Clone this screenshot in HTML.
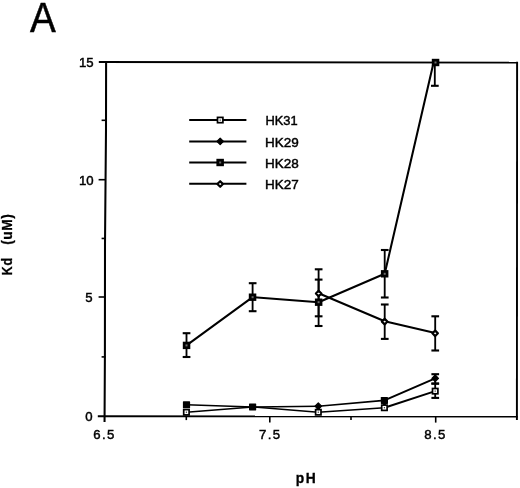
<!DOCTYPE html><html><head><meta charset="utf-8"><title>A</title>
<style>html,body{margin:0;padding:0;background:#fff;}svg{display:block;}text{font-family:"Liberation Sans",Arial,Helvetica,sans-serif;fill:#000;}</style></head><body>
<svg width="520" height="488" viewBox="0 0 520 488">
<rect width="520" height="488" fill="#fff"/>
<text transform="translate(30.1 31.5) scale(0.893 1)" font-size="43.3" stroke="#000" stroke-width="0.5">A</text>
<g stroke="#000" stroke-width="1.9" fill="none" stroke-linecap="butt">
<path d="M98.8 62 L516.9 62.6"/>
<path d="M106.1 61.2 L106 130 L105.55 180 L105 245 L104.9 356 L104.55 422" stroke-width="2.05" stroke-linejoin="round"/>
<path d="M517.1 61.7 L516.9 420"/>
<path d="M97.8 416.3 L517.8 416.5"/>
</g>
<g stroke="#000" stroke-width="1.6" fill="none">
<path d="M98.6 179.7 H105.5"/>
<path d="M98.6 297.0 H105.5"/>
<path d="M101.6 120.3 H105.5"/>
<path d="M101.6 238.45 H105.5"/>
<path d="M101.6 356.9 H105.5"/>
<path d="M269.8 416 V422.6"/>
<path d="M435.7 416 V422.6"/>
<path d="M186.3 416 V420.1"/>
<path d="M351.0 416 V420.1"/>
</g>
<g font-size="13.2" stroke="#000" stroke-width="0.45">
<text x="93.6" y="66.9" text-anchor="end">15</text>
<text x="93.6" y="184.6" text-anchor="end">10</text>
<text x="92.5" y="302.4" text-anchor="end">5</text>
<text x="92.5" y="421.0" text-anchor="end">0</text>
<text x="104.4" y="438.5" text-anchor="middle" letter-spacing="1.35">6.5</text>
<text x="270.3" y="438.8" text-anchor="middle" letter-spacing="1.35">7.5</text>
<text x="435.4" y="438.8" text-anchor="middle" letter-spacing="1.35">8.5</text>
</g>
<text transform="translate(11.7 275.3) rotate(-90) scale(0.9 1)" font-size="13.8" font-weight="bold" letter-spacing="0.9" stroke="#000" stroke-width="0.3">Kd</text>
<text transform="translate(11.7 244.8) rotate(-90)" font-size="13.8" font-weight="bold" letter-spacing="0.55" stroke="#000" stroke-width="0.3">(uM)</text>
<text x="295.7" y="483" font-size="13.8" font-weight="bold" letter-spacing="1.6" stroke="#000" stroke-width="0.3">pH</text>
<g>
<path d="M189.2 120.1 H246.4" stroke="#000" stroke-width="2"/>
<rect x="217.5" y="117.4" width="5.4" height="5.3" fill="#fff" stroke="#000" stroke-width="1.7"/><rect x="219.6" y="119.5" width="1.2" height="1.2" fill="#333"/>
<text transform="translate(265.4 125.2) scale(0.955 1)" font-size="13.5" stroke="#000" stroke-width="0.45">HK31</text>
<path d="M189.2 141.4 H246.4" stroke="#000" stroke-width="2"/>
<path d="M216.9 141.4 L220.2 138.1 L223.5 141.4 L220.2 144.7Z" fill="#000" stroke="#000" stroke-width="1.2" stroke-linejoin="round"/>
<text transform="translate(265.0 146.5) scale(1.0 1)" font-size="13.5" stroke="#000" stroke-width="0.45">HK29</text>
<path d="M189.2 162.5 H246.4" stroke="#000" stroke-width="2"/>
<rect x="216.4" y="158.8" width="7.5" height="7.4" fill="#000"/><rect x="219.2" y="161.5" width="2" height="2" fill="#6a6a6a"/>
<text transform="translate(265.0 167.6) scale(1.0 1)" font-size="13.5" stroke="#000" stroke-width="0.45">HK28</text>
<path d="M189.2 183.7 H246.4" stroke="#000" stroke-width="2"/>
<path d="M217.4 184.0 L220.2 181.2 L222.9 184.0 L220.2 186.8Z" fill="#fff" stroke="#000" stroke-width="2.2" stroke-linejoin="round"/>
<text transform="translate(265.0 188.8) scale(1.0 1)" font-size="13.5" stroke="#000" stroke-width="0.45">HK27</text>
</g>
<path d="M186.5 345.4 L252.6 297.2 L318.6 302.2 L384.7 273.8 L433.6 62.5" fill="none" stroke="#000" stroke-width="2.05" stroke-linejoin="round"/>
<path d="M318.6 293.2 L384.7 321.3 L435.2 333.0" fill="none" stroke="#000" stroke-width="2.05" stroke-linejoin="round"/>
<path d="M186.5 404.8 L252.6 406.9" fill="none" stroke="#000" stroke-width="1.5" stroke-linecap="round"/>
<path d="M252.6 406.9 L318.3 406.2" fill="none" stroke="#000" stroke-width="1.5" stroke-linecap="round"/>
<path d="M318.3 406.2 L384.4 400.4" fill="none" stroke="#000" stroke-width="1.65" stroke-linecap="round"/>
<path d="M384.4 400.4 L435.2 378.3" fill="none" stroke="#000" stroke-width="2.0" stroke-linecap="round"/>
<path d="M186.4 412.2 L252.6 406.9" fill="none" stroke="#000" stroke-width="1.5" stroke-linecap="round"/>
<path d="M252.6 406.9 L318.3 412.2" fill="none" stroke="#000" stroke-width="1.5" stroke-linecap="round"/>
<path d="M318.3 412.2 L384.4 407.7" fill="none" stroke="#000" stroke-width="1.65" stroke-linecap="round"/>
<path d="M384.4 407.7 L435.2 391.1" fill="none" stroke="#000" stroke-width="2.0" stroke-linecap="round"/>
<g stroke="#000" stroke-width="1.85" fill="none">
<path d="M186.5 333.2 V357.0"/>
<path d="M182.7 333.2 H190.4" stroke-width="2.1"/>
<path d="M182.7 357.0 H190.4" stroke-width="2.1"/>
<path d="M252.6 283.2 V311.2"/>
<path d="M248.8 283.2 H256.5" stroke-width="2.1"/>
<path d="M248.8 311.2 H256.5" stroke-width="2.1"/>
<path d="M318.6 279.6 V326.0"/>
<path d="M314.8 279.6 H322.5" stroke-width="2.1"/>
<path d="M314.8 326.0 H322.5" stroke-width="2.1"/>
<path d="M384.7 250.0 V297.5"/>
<path d="M380.9 250.0 H388.6" stroke-width="2.1"/>
<path d="M380.9 297.5 H388.6" stroke-width="2.1"/>
<path d="M434.8 62.5 V85.8"/>
<path d="M431.0 85.8 H438.7" stroke-width="2.1"/>
<path d="M318.6 269.3 V316.3"/>
<path d="M314.8 269.3 H322.5" stroke-width="2.1"/>
<path d="M314.8 316.3 H322.5" stroke-width="2.1"/>
<path d="M384.7 304.5 V338.9"/>
<path d="M380.9 304.5 H388.6" stroke-width="2.1"/>
<path d="M380.9 338.9 H388.6" stroke-width="2.1"/>
<path d="M435.2 316.3 V350.5"/>
<path d="M431.4 316.3 H439.1" stroke-width="2.1"/>
<path d="M431.4 350.5 H439.1" stroke-width="2.1"/>
<path d="M435.2 374.2 V383.6"/>
<path d="M431.4 374.2 H439.1" stroke-width="2.1"/>
<path d="M431.4 383.6 H439.1" stroke-width="2.1"/>
<path d="M435.2 383.6 V397.9"/>
<path d="M431.4 383.6 H439.1" stroke-width="2.1"/>
<path d="M431.4 397.9 H439.1" stroke-width="2.1"/>
</g>
<path d="M318.3 406 V410 M384.4 400 V405" stroke="#000" stroke-width="3"/>
<rect x="182.8" y="341.7" width="7.5" height="7.4" fill="#000"/><rect x="185.5" y="344.4" width="2" height="2" fill="#6a6a6a"/>
<rect x="248.8" y="293.5" width="7.5" height="7.4" fill="#000"/><rect x="251.6" y="296.2" width="2" height="2" fill="#6a6a6a"/>
<rect x="314.9" y="298.5" width="7.5" height="7.4" fill="#000"/><rect x="317.6" y="301.2" width="2" height="2" fill="#6a6a6a"/>
<rect x="380.9" y="270.1" width="7.5" height="7.4" fill="#000"/><rect x="383.7" y="272.8" width="2" height="2" fill="#6a6a6a"/>
<rect x="431.8" y="58.8" width="7.5" height="7.4" fill="#000"/><rect x="434.5" y="61.5" width="2" height="2" fill="#6a6a6a"/>
<path d="M315.9 293.5 L318.6 290.8 L321.4 293.5 L318.6 296.2Z" fill="#fff" stroke="#000" stroke-width="2.2" stroke-linejoin="round"/>
<path d="M381.9 321.6 L384.7 318.9 L387.4 321.6 L384.7 324.4Z" fill="#fff" stroke="#000" stroke-width="2.2" stroke-linejoin="round"/>
<path d="M432.4 333.3 L435.2 330.6 L437.9 333.3 L435.2 336.1Z" fill="#fff" stroke="#000" stroke-width="2.2" stroke-linejoin="round"/>
<rect x="183.7" y="409.6" width="5.4" height="5.3" fill="#fff" stroke="#000" stroke-width="1.7"/><rect x="185.8" y="411.6" width="1.2" height="1.2" fill="#333"/>
<rect x="315.6" y="409.6" width="5.4" height="5.3" fill="#fff" stroke="#000" stroke-width="1.7"/><rect x="317.7" y="411.6" width="1.2" height="1.2" fill="#333"/>
<rect x="381.7" y="405.1" width="5.4" height="5.3" fill="#fff" stroke="#000" stroke-width="1.7"/><rect x="383.8" y="407.1" width="1.2" height="1.2" fill="#333"/>
<rect x="432.5" y="388.5" width="5.4" height="5.3" fill="#fff" stroke="#000" stroke-width="1.7"/><rect x="434.6" y="390.5" width="1.2" height="1.2" fill="#333"/>
<rect x="182.9" y="401.3" width="7.2" height="7.0" rx="0.6" fill="#000"/>
<rect x="249.0" y="403.4" width="7.2" height="7.0" rx="0.6" fill="#000"/>
<path d="M315.0 406.2 L318.3 402.9 L321.6 406.2 L318.3 409.5Z" fill="#000" stroke="#000" stroke-width="1.2" stroke-linejoin="round"/>
<rect x="380.8" y="396.9" width="7.2" height="7.0" rx="0.6" fill="#000"/>
<path d="M431.9 378.3 L435.2 375.0 L438.5 378.3 L435.2 381.6Z" fill="#000" stroke="#000" stroke-width="1.2" stroke-linejoin="round"/>
</svg></body></html>
